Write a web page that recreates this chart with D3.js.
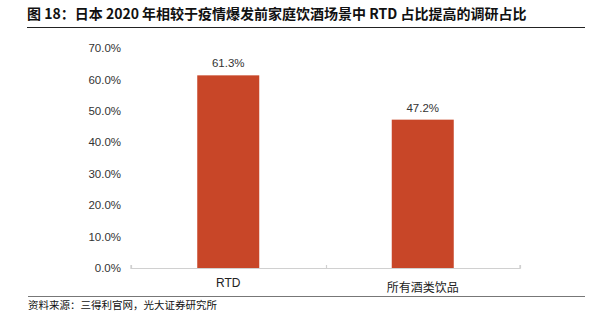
<!DOCTYPE html>
<html><head><meta charset="utf-8">
<script src="https://cdn.jsdelivr.net/npm/d3@7"></script>
<style>body{margin:0;background:#fff}svg{display:block}</style>
</head><body>
<script>
const categories = ["RTD", "所有酒类饮品"];
const values = [61.3, 47.2];
const yTicks = [0, 10, 20, 30, 40, 50, 60, 70];
const title = "图 18：日本 2020 年相较于疫情爆发前家庭饮酒场景中 RTD 占比提高的调研占比";
const source = "资料来源：三得利官网，光大证券研究所";

const W = 609, H = 326;
const svg = d3.select("body").append("svg").attr("width", W).attr("height", H);
const cjk = "'Noto Sans CJK SC', 'Noto Sans', sans-serif";
const latin = "'Liberation Sans', Arial, sans-serif";

svg.append("text").attr("x", 27).attr("y", 19)
  .attr("font-family", cjk).attr("font-weight", "bold").attr("font-size", 14)
  .attr("fill", "#111").text(title);
svg.append("line").attr("x1", 27).attr("x2", 585).attr("y1", 27.5).attr("y2", 27.5)
  .attr("stroke", "#222").attr("stroke-width", 1);

const x = d3.scaleBand().domain(categories).range([131, 520]).paddingInner(0).paddingOuter(0);
const y = d3.scaleLinear().domain([0, 70]).range([268, 48]);

// y labels
const ya = svg.append("g").attr("transform", "translate(121,0)")
  .call(d3.axisLeft(y).tickValues(yTicks).tickSize(0).tickPadding(0).tickFormat(d => d.toFixed(1) + "%"));
ya.select(".domain").remove();
ya.selectAll("text").attr("font-family", latin).attr("font-size", 11.5).attr("fill", "#333");

// bars
const bw = 62;
svg.selectAll("rect.bar").data(values).join("rect").attr("class", "bar")
  .attr("x", (d, i) => x(categories[i]) + x.bandwidth() / 2 - bw / 2)
  .attr("width", bw)
  .attr("y", d => y(d))
  .attr("height", d => y(0) - y(d))
  .attr("fill", "#C84628");

// value labels
svg.selectAll("text.val").data(values).join("text").attr("class", "val")
  .attr("x", (d, i) => x(categories[i]) + x.bandwidth() / 2)
  .attr("y", d => y(d) - 8)
  .attr("text-anchor", "middle")
  .attr("font-family", latin).attr("font-size", 11.5).attr("fill", "#333")
  .text(d => d.toFixed(1) + "%");

// x axis
const xa = svg.append("g").attr("transform", "translate(0,268)")
  .call(d3.axisBottom(x).tickSize(0).tickPadding(0));
xa.select(".domain").attr("stroke", "#d0d0d0").attr("stroke-width", 1.2)
  .attr("d", `M131,-3V0.5H520V-3`);
xa.selectAll(".tick text").remove();
const bounds = [131, 326, 520];
svg.selectAll("line.xt").data(bounds).join("line").attr("class", "xt")
  .attr("x1", d => d + 0.5).attr("x2", d => d + 0.5).attr("y1", 265).attr("y2", 268.5)
  .attr("stroke", "#d0d0d0").attr("stroke-width", 1.2);
svg.selectAll("text.cat").data(categories).join("text").attr("class", "cat")
  .attr("x", d => x(d) + x.bandwidth() / 2)
  .attr("y", (d, i) => i === 0 ? 287 : 292)
  .attr("text-anchor", "middle")
  .attr("font-family", (d, i) => i === 0 ? latin : cjk)
  .attr("font-size", 12).attr("fill", "#222").text(d => d);

svg.append("line").attr("x1", 28).attr("x2", 585).attr("y1", 296.5).attr("y2", 296.5)
  .attr("stroke", "#777").attr("stroke-width", 1.2);
svg.append("text").attr("x", 28).attr("y", 309)
  .attr("font-family", cjk).attr("font-size", 10.5).attr("fill", "#111").text(source);
</script>
</body></html>
